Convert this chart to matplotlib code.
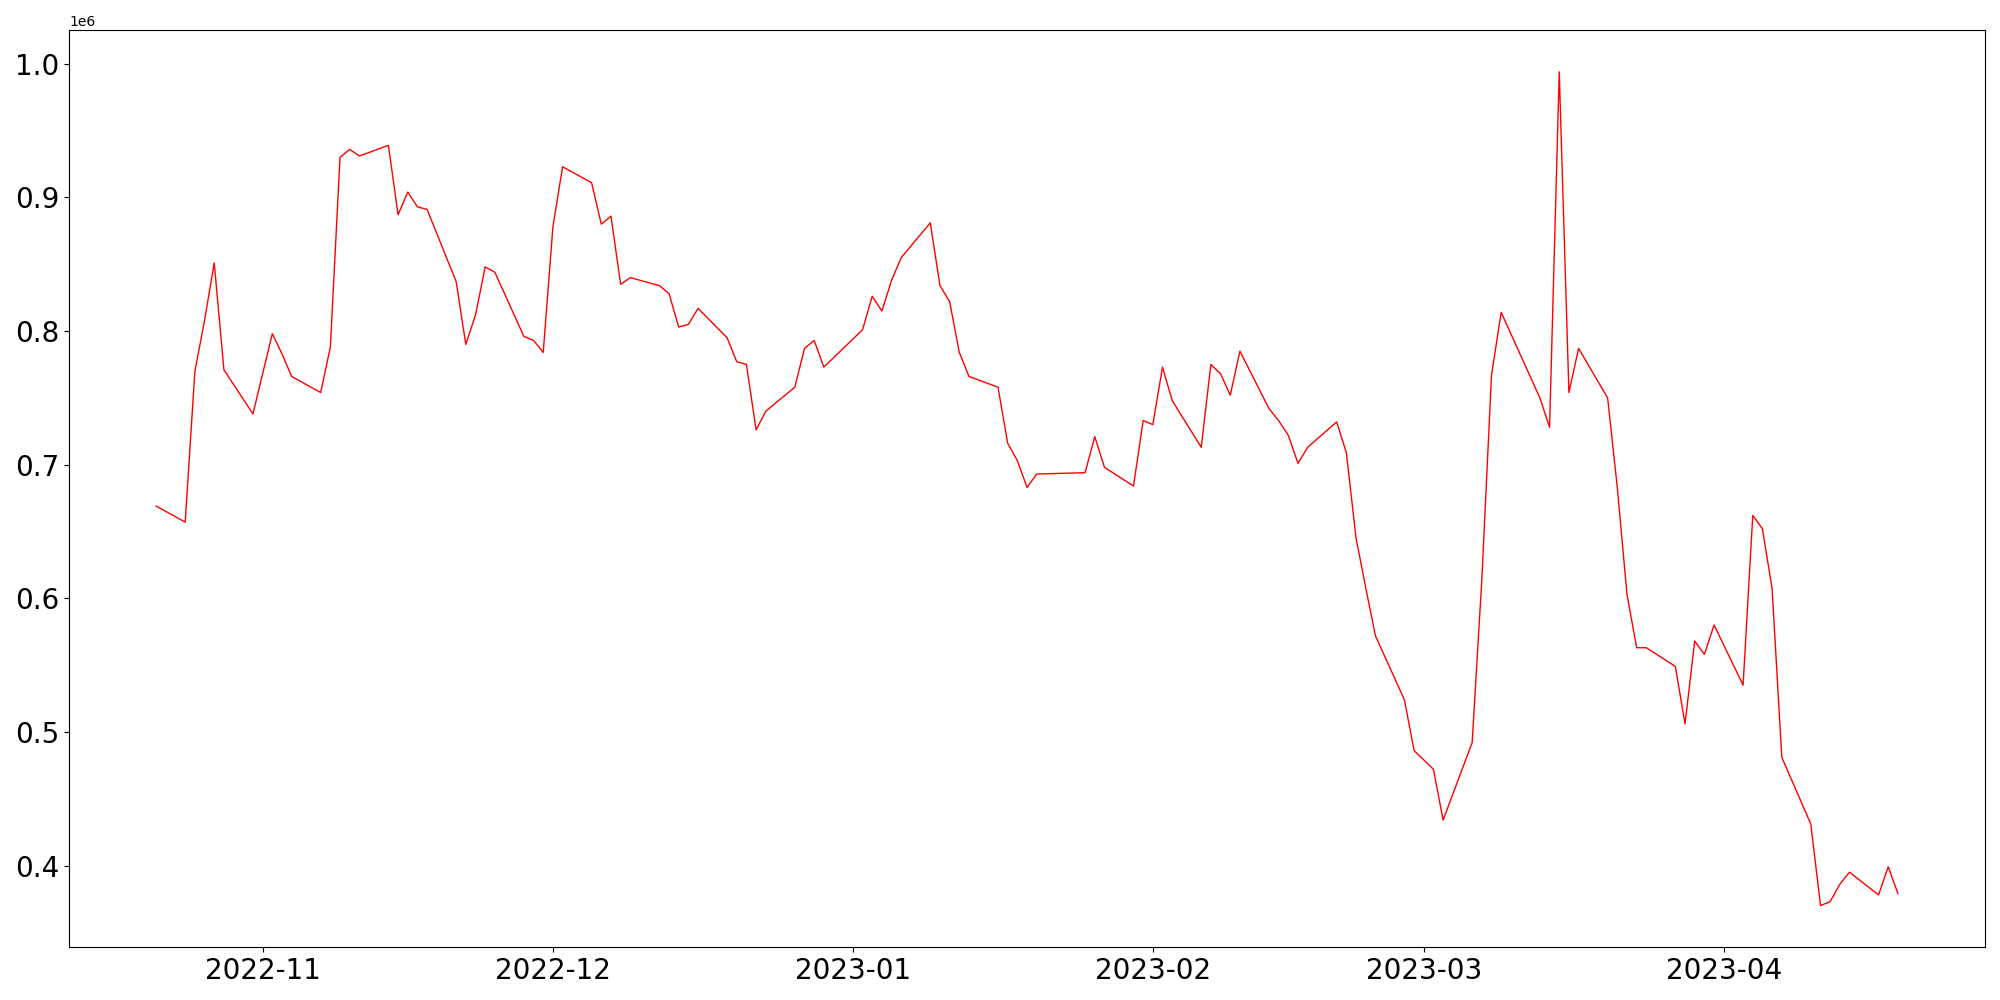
import matplotlib
matplotlib.use('Agg')
import matplotlib.pyplot as plt
import pandas as pd

dates = [
    '2022-10-21', '2022-10-24', '2022-10-25', '2022-10-26', '2022-10-27', '2022-10-28',
    '2022-10-31', '2022-11-01', '2022-11-02', '2022-11-03', '2022-11-04',
    '2022-11-07', '2022-11-08', '2022-11-09', '2022-11-10', '2022-11-11',
    '2022-11-14', '2022-11-15', '2022-11-16', '2022-11-17', '2022-11-18',
    '2022-11-21', '2022-11-22', '2022-11-23', '2022-11-24', '2022-11-25',
    '2022-11-28', '2022-11-29', '2022-11-30', '2022-12-01', '2022-12-02',
    '2022-12-05', '2022-12-06', '2022-12-07', '2022-12-08', '2022-12-09',
    '2022-12-12', '2022-12-13', '2022-12-14', '2022-12-15', '2022-12-16',
    '2022-12-19', '2022-12-20', '2022-12-21', '2022-12-22', '2022-12-23',
    '2022-12-26', '2022-12-27', '2022-12-28', '2022-12-29',
    '2023-01-02', '2023-01-03', '2023-01-04', '2023-01-05', '2023-01-06',
    '2023-01-09', '2023-01-10', '2023-01-11', '2023-01-12', '2023-01-13',
    '2023-01-16', '2023-01-17', '2023-01-18', '2023-01-19', '2023-01-20',
    '2023-01-25', '2023-01-26', '2023-01-27',
    '2023-01-30', '2023-01-31', '2023-02-01', '2023-02-02', '2023-02-03',
    '2023-02-06', '2023-02-07', '2023-02-08', '2023-02-09', '2023-02-10',
    '2023-02-13', '2023-02-14', '2023-02-15', '2023-02-16', '2023-02-17',
    '2023-02-20', '2023-02-21', '2023-02-22', '2023-02-23', '2023-02-24',
    '2023-02-27', '2023-02-28', '2023-03-01', '2023-03-02', '2023-03-03',
    '2023-03-06', '2023-03-07', '2023-03-08', '2023-03-09',
    '2023-03-13', '2023-03-14', '2023-03-15', '2023-03-16', '2023-03-17',
    '2023-03-20', '2023-03-21', '2023-03-22', '2023-03-23', '2023-03-24',
    '2023-03-27', '2023-03-28', '2023-03-29', '2023-03-30', '2023-03-31',
    '2023-04-03', '2023-04-04', '2023-04-05', '2023-04-06', '2023-04-07',
    '2023-04-10', '2023-04-11', '2023-04-12', '2023-04-13', '2023-04-14',
    '2023-04-17', '2023-04-18', '2023-04-19',
]

# values in millions
values = [
    0.669, 0.657, 0.770, 0.808, 0.851, 0.771,
    0.738, 0.768, 0.798, 0.783, 0.766,
    0.754, 0.788, 0.930, 0.936, 0.931,
    0.939, 0.887, 0.904, 0.893, 0.891,
    0.837, 0.790, 0.812, 0.848, 0.844,
    0.796, 0.793, 0.784, 0.878, 0.923,
    0.911, 0.880, 0.886, 0.835, 0.840,
    0.834, 0.828, 0.803, 0.805, 0.817,
    0.795, 0.777, 0.775, 0.726, 0.740,
    0.758, 0.787, 0.793, 0.773,
    0.801, 0.826, 0.815, 0.838, 0.855,
    0.881, 0.834, 0.822, 0.784, 0.766,
    0.758, 0.716, 0.703, 0.683, 0.693,
    0.694, 0.721, 0.698,
    0.684, 0.733, 0.730, 0.773, 0.748,
    0.713, 0.775, 0.768, 0.752, 0.785,
    0.742, 0.733, 0.722, 0.701, 0.713,
    0.732, 0.709, 0.645, 0.608, 0.572,
    0.524, 0.486, 0.479, 0.472, 0.434,
    0.492, 0.614, 0.767, 0.814,
    0.750, 0.728, 0.994, 0.754, 0.787,
    0.750, 0.683, 0.603, 0.563, 0.563,
    0.549, 0.506, 0.568, 0.558, 0.580,
    0.535, 0.662, 0.652, 0.607, 0.481,
    0.431, 0.370, 0.373, 0.386, 0.395,
    0.378, 0.399, 0.379,
]

series = pd.Series([v * 1e6 for v in values], index=pd.to_datetime(dates))

plt.figure(figsize=(20, 10), dpi=100)
plt.plot(series, color='red', linewidth=1)
plt.xticks(fontsize=20)
plt.yticks(fontsize=20)
plt.tight_layout()
plt.savefig('out.png')
